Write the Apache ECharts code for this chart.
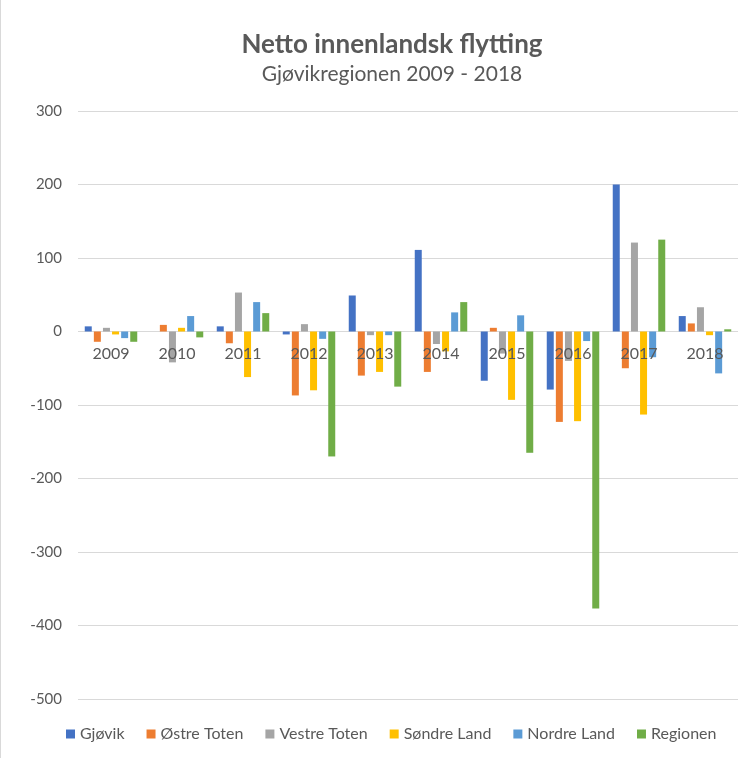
<!DOCTYPE html>
<html>
<head>
<meta charset="utf-8">
<script src="https://cdn.jsdelivr.net/npm/echarts@6/dist/echarts.min.js"></script>
<style>
  html, body { margin: 0; padding: 0; background: #fff; }
  #chart { width: 748px; height: 758px; box-sizing: border-box; border-left: 1px solid #d9d9d9; }
</style>
</head>
<body>
<div id="chart"></div>
<script>
// years on the category axis
var years = ['2009', '2010', '2011', '2012', '2013', '2014', '2015', '2016', '2017', '2018'];

// net domestic migration per municipality
var gjovik       = [7, 0, 7, -4, 49, 111, -67, -79, 200, 21];
var ostreToten   = [-14, 9, -16, -87, -60, -55, 5, -123, -50, 11];
var vestreToten  = [5, -42, 53, 10, -5, -17, -30, -40, 121, 33];
var sondreLand   = [-4, 5, -62, -80, -55, -27, -93, -122, -113, -5];
var nordreLand   = [-9, 21, 40, -10, -5, 26, 22, -13, -35, -57];
var regionen     = [-14, -8, 25, -170, -75, 40, -165, -377, 125, 3];

var seriesNames  = ['Gjøvik', 'Østre Toten', 'Vestre Toten', 'Søndre Land', 'Nordre Land', 'Regionen'];
var seriesData   = [gjovik, ostreToten, vestreToten, sondreLand, nordreLand, regionen];
var colors       = ['#4472C4', '#ED7D31', '#A5A5A5', '#FFC000', '#5B9BD5', '#70AD47'];

var font = 'Lato, "Open Sans", sans-serif';

// plot box, and how far the zero line sits above the bottom of it
var gridTop = 111, gridBottom = 59;
var plotH = 758 - gridTop - gridBottom;
var zeroOffset = plotH * 500 / 800;

var myChart = echarts.init(document.getElementById('chart'));

var series = seriesNames.map(function (name, i) {
    return {
        name: name,
        type: 'bar',
        data: seriesData[i],
        barWidth: 7,
        barGap: '30%',
        itemStyle: { color: colors[i] }
    };
});

var option = {
    animation: false,
    color: colors,
    title: {
        text: 'Netto innenlandsk flytting',
        subtext: 'Gjøvikregionen 2009 - 2018',
        left: 386,
        textAlign: 'center',
        top: 27,
        itemGap: 6,
        textStyle: { fontFamily: font, fontSize: 26, fontWeight: 'bold', color: '#595959' },
        subtextStyle: { fontFamily: font, fontSize: 21, color: '#595959' }
    },
    legend: {
        bottom: 11,
        left: 60,
        itemWidth: 9,
        itemHeight: 9,
        itemGap: 22,
        icon: 'rect',
        textStyle: { fontFamily: font, fontSize: 16, color: '#595959' },
        data: seriesNames
    },
    grid: {
        left: 77,
        right: 10,
        top: gridTop,
        bottom: gridBottom,
        containLabel: false
    },
    xAxis: {
        type: 'category',
        data: years,
        position: 'bottom',
        offset: -zeroOffset,
        axisLine: { show: false },
        axisTick: { show: false },
        axisLabel: { color: '#595959', fontFamily: font, fontSize: 16, margin: 14 },
        z: 10
    },
    yAxis: {
        type: 'value',
        min: -500,
        max: 300,
        interval: 100,
        axisLine: { show: false },
        axisTick: { show: false },
        axisLabel: { color: '#595959', fontFamily: font, fontSize: 15, margin: 16 },
        splitLine: { lineStyle: { color: '#d9d9d9', width: 1 } }
    },
    series: series
};

myChart.setOption(option);
</script>
</body>
</html>
